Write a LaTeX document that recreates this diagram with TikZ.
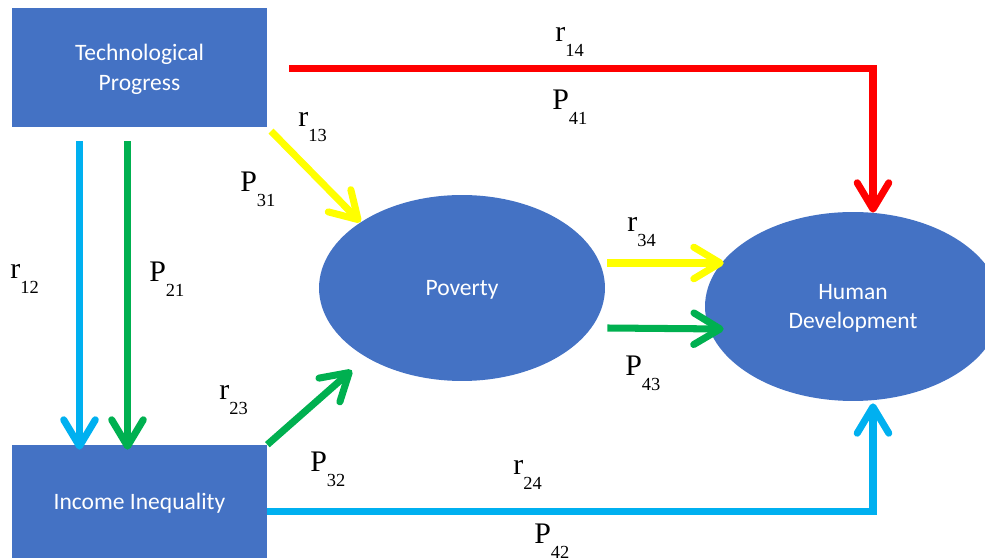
\documentclass[tikz,border=0pt]{standalone}
\usepackage{fontspec}
\usepackage{tikz}
\usetikzlibrary{shapes.geometric, arrows.meta, positioning, calc}
\newfontfamily\boxfont{Carlito}
\newfontfamily\lblfont{Liberation Serif}
\definecolor{boxblue}{RGB}{68,114,196}
\definecolor{pathred}{RGB}{255,0,0}
\definecolor{pathyellow}{RGB}{255,255,0}
\definecolor{pathgreen}{RGB}{0,176,80}
\definecolor{pathblue}{RGB}{0,176,240}
\newcommand{\coef}[2]{#1\raisebox{-8pt}{\fontsize{10.5}{12}\selectfont #2}}
\tikzset{
  varbox/.style={rectangle, fill=boxblue, text=white, align=center,
    font=\boxfont\fontsize{13.4}{17}\selectfont, minimum width=5.1cm,
    inner sep=0pt, text depth=0pt},
  varoval/.style={ellipse, fill=boxblue, text=white, align=center,
    font=\boxfont\fontsize{13.4}{17}\selectfont, inner sep=0pt, text depth=0pt},
  coeflbl/.style={anchor=base west, inner sep=0pt, font=\lblfont\fontsize{17}{20}\selectfont},
  link/.style={line width=4pt, -{Straight Barb[length=15pt, width=18pt, round]}},
  redarrow/.style={link, color=pathred},
  yellowarrow/.style={link, color=pathyellow},
  greenarrow/.style={link, color=pathgreen},
  bluearrow/.style={link, color=pathblue}
}
\begin{document}
\begin{tikzpicture}[x=0.02cm, y=-0.02cm]
  \useasboundingbox (0,0) rectangle (985,560);

  % Variables
  \node[varbox, minimum height=2.38cm] (tech) at (139.5,67.5) {Technological\\Progress};
  \node[varbox, minimum height=2.26cm] (ineq) at (139.5,501.5) {Income Inequality};
  \node[varoval, minimum width=5.72cm, minimum height=3.72cm] (pov) at (462,288) {Poverty};
  \node[varoval, minimum width=5.92cm, minimum height=3.78cm] (hd) at (853,306.5) {Human\\Development};

  % Paths
  \draw[redarrow] ($(tech.east)+(22,1)$) -| ($(hd.north)+(20,1)$);
  \draw[bluearrow] ($(tech.south)+(-60,14)$) -- ($(ineq.north)+(-60,5)$);
  \draw[greenarrow] ($(tech.south)+(-12,14)$) -- ($(ineq.north)+(-12,5)$);
  \draw[yellowarrow, shorten <=3pt] (tech.south east) -- (pov.147);
  \draw[greenarrow, shorten >=11pt] (ineq.north east) -- (pov.216);
  \draw[yellowarrow] ($(pov.east)+(2,-25)$) -- ($(hd.west)+(19,-43.5)$);
  \draw[greenarrow] ($(pov.east)+(2,40)$) -- ($(hd.west)+(19,22.5)$);
  \draw[bluearrow] ($(ineq.east)+(0,10)$) -| ($(hd.south)+(20,2)$);

  % Coefficients
  \node[coeflbl] (r14) at (555,42) {\coef{r}{14}};
  \node[coeflbl] (p41) at (552,110) {\coef{P}{41}};
  \node[coeflbl] (r13) at (298,127) {\coef{r}{13}};
  \node[coeflbl] (p31) at (240,192) {\coef{P}{31}};
  \node[coeflbl] (r12) at (10,279) {\coef{r}{12}};
  \node[coeflbl] (p21) at (149,282) {\coef{P}{21}};
  \node[coeflbl] (r23) at (219,400) {\coef{r}{23}};
  \node[coeflbl] (p32) at (310,472) {\coef{P}{32}};
  \node[coeflbl] (r24) at (513,475) {\coef{r}{24}};
  \node[coeflbl] (p42) at (534,544) {\coef{P}{42}};
  \node[coeflbl] (r34) at (627,232) {\coef{r}{34}};
  \node[coeflbl] (p43) at (625,376) {\coef{P}{43}};
\end{tikzpicture}
\end{document}
